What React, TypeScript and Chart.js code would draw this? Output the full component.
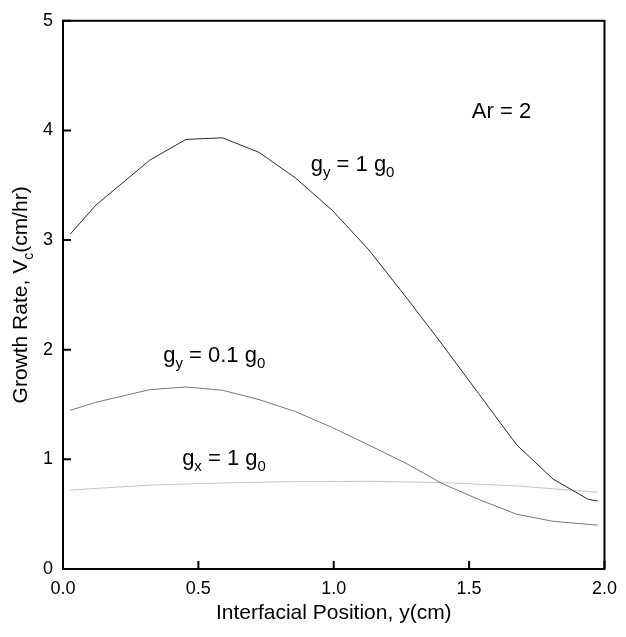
import React, { useEffect, useRef } from "react";
import { Chart, registerables } from "chart.js";

Chart.register(...registerables);

// gy = 1 g0
const xGy1 = [0.027, 0.121, 0.321, 0.454, 0.589, 0.724, 0.859, 0.995, 1.13, 1.27, 1.4, 1.535, 1.675, 1.81, 1.94, 1.975];
const yGy1 = [3.055, 3.318, 3.73, 3.918, 3.933, 3.8, 3.566, 3.27, 2.91, 2.47, 2.05, 1.6, 1.134, 0.82, 0.635, 0.62];
// gy = 0.1 g0
const xGy01 = [0.027, 0.121, 0.321, 0.454, 0.589, 0.724, 0.859, 0.995, 1.13, 1.27, 1.4, 1.535, 1.675, 1.81, 1.975];
const yGy01 = [1.448, 1.52, 1.636, 1.66, 1.63, 1.545, 1.435, 1.29, 1.13, 0.96, 0.78, 0.635, 0.5, 0.435, 0.4];
// gx = 1 g0
const xGx1 = [0.027, 0.321, 0.589, 0.859, 1.13, 1.4, 1.675, 1.975];
const yGx1 = [0.72, 0.765, 0.785, 0.797, 0.8, 0.788, 0.758, 0.7];

const xTicks = [0, 0.5, 1.0, 1.5, 2.0];
const yTicks = [0, 1, 2, 3, 4, 5];

type Part = { t: string; sub?: boolean };
const annotations: { parts: Part[]; x: number; y: number }[] = [
  { parts: [{ t: "Ar = 2" }], x: 1.51, y: 4.11 },
  { parts: [{ t: "g" }, { t: "y", sub: true }, { t: " = 1 g" }, { t: "0", sub: true }], x: 0.915, y: 3.627 },
  { parts: [{ t: "g" }, { t: "y", sub: true }, { t: " = 0.1 g" }, { t: "0", sub: true }], x: 0.37, y: 1.89 },
  { parts: [{ t: "g" }, { t: "x", sub: true }, { t: " = 1 g" }, { t: "0", sub: true }], x: 0.44, y: 0.946 },
];
const yTitle: Part[] = [{ t: "Growth Rate, V" }, { t: "c", sub: true }, { t: "(cm/hr)" }];
const xTitle = "Interfacial Position, y(cm)";

const FONT = '"Liberation Sans", Arial, sans-serif';

function drawParts(ctx: CanvasRenderingContext2D, parts: Part[], x: number, y: number, size: number, subSize: number, align: "left" | "center") {
  let total = 0;
  const widths = parts.map((p) => {
    ctx.font = `${p.sub ? subSize : size}px ${FONT}`;
    const w = ctx.measureText(p.t).width;
    total += w;
    return w;
  });
  let cx = align === "center" ? x - total / 2 : x;
  ctx.textAlign = "left";
  ctx.textBaseline = "alphabetic";
  parts.forEach((p, i) => {
    ctx.font = `${p.sub ? subSize : size}px ${FONT}`;
    ctx.fillText(p.t, cx, p.sub ? y + size * 0.28 : y);
    cx += widths[i];
  });
}

const decorPlugin = {
  id: "decor",
  afterDraw(chart: any) {
    const { ctx, chartArea, scales } = chart;
    const xs = scales.x;
    const ys = scales.y;
    ctx.save();
    // frame
    ctx.strokeStyle = "#000";
    ctx.lineWidth = 2;
    ctx.strokeRect(chartArea.left, chartArea.top, chartArea.right - chartArea.left, chartArea.bottom - chartArea.top);
    // inward ticks
    const tl = 8;
    ctx.beginPath();
    xTicks.forEach((v) => {
      const px = xs.getPixelForValue(v);
      ctx.moveTo(px, chartArea.bottom);
      ctx.lineTo(px, chartArea.bottom - tl);
    });
    yTicks.forEach((v) => {
      const py = ys.getPixelForValue(v);
      ctx.moveTo(chartArea.left, py);
      ctx.lineTo(chartArea.left + tl, py);
    });
    ctx.stroke();
    ctx.fillStyle = "#000";
    // annotations
    annotations.forEach((a) => {
      drawParts(ctx, a.parts, xs.getPixelForValue(a.x), ys.getPixelForValue(a.y), 22, 15, "left");
    });
    // x title
    drawParts(ctx, [{ t: xTitle }], (chartArea.left + chartArea.right) / 2, 619, 21, 14, "center");
    // y title
    ctx.translate(27, (chartArea.top + chartArea.bottom) / 2);
    ctx.rotate(-Math.PI / 2);
    drawParts(ctx, yTitle, 0, 0, 21, 14, "center");
    ctx.restore();
  },
};

export default function App() {
  const ref = useRef<HTMLCanvasElement | null>(null);
  useEffect(() => {
    if (!ref.current) return;
    const mk = (xs: number[], ys: number[]) => xs.map((x, i) => ({ x, y: ys[i] }));
    const chart = new Chart(ref.current, {
      type: "line",
      data: {
        datasets: [
          { label: "gy = 1 g0", data: mk(xGy1, yGy1), borderColor: "#2a2a2a", borderWidth: 1, pointRadius: 0, tension: 0, fill: false },
          { label: "gy = 0.1 g0", data: mk(xGy01, yGy01), borderColor: "#777777", borderWidth: 1, pointRadius: 0, tension: 0, fill: false },
          { label: "gx = 1 g0", data: mk(xGx1, yGx1), borderColor: "#c4c4c4", borderWidth: 1, pointRadius: 0, tension: 0, fill: false },
        ],
      },
      options: {
        animation: false,
        responsive: false,
        maintainAspectRatio: false,
        layout: { padding: { left: 0, right: 12, top: 19, bottom: 0 } },
        plugins: { legend: { display: false }, tooltip: { enabled: false } },
        scales: {
          x: {
            type: "linear",
            min: 0,
            max: 2,
            afterFit: (s: any) => { s.height = 68; },
            afterBuildTicks: (s: any) => { s.ticks = xTicks.map((v) => ({ value: v })); },
            ticks: { color: "#000", font: { size: 18, family: FONT }, padding: 9, maxRotation: 0, callback: (v: any) => Number(v).toFixed(1) },
            grid: { display: false, drawTicks: false },
            border: { display: false },
          },
          y: {
            type: "linear",
            min: 0,
            max: 5,
            afterFit: (s: any) => { s.width = 63; },
            afterBuildTicks: (s: any) => { s.ticks = yTicks.map((v) => ({ value: v })); },
            ticks: { color: "#000", font: { size: 18, family: FONT }, padding: 10, callback: (v: any) => String(v) },
            grid: { display: false, drawTicks: false },
            border: { display: false },
          },
        },
      },
      plugins: [decorPlugin],
    });
    return () => chart.destroy();
  }, []);
  return (
    <div style={{ position: "absolute", left: 0, top: 0, width: 626, height: 637, background: "#fff" }}>
      <canvas ref={ref} width={626} height={637} style={{ display: "block" }} />
    </div>
  );
}
